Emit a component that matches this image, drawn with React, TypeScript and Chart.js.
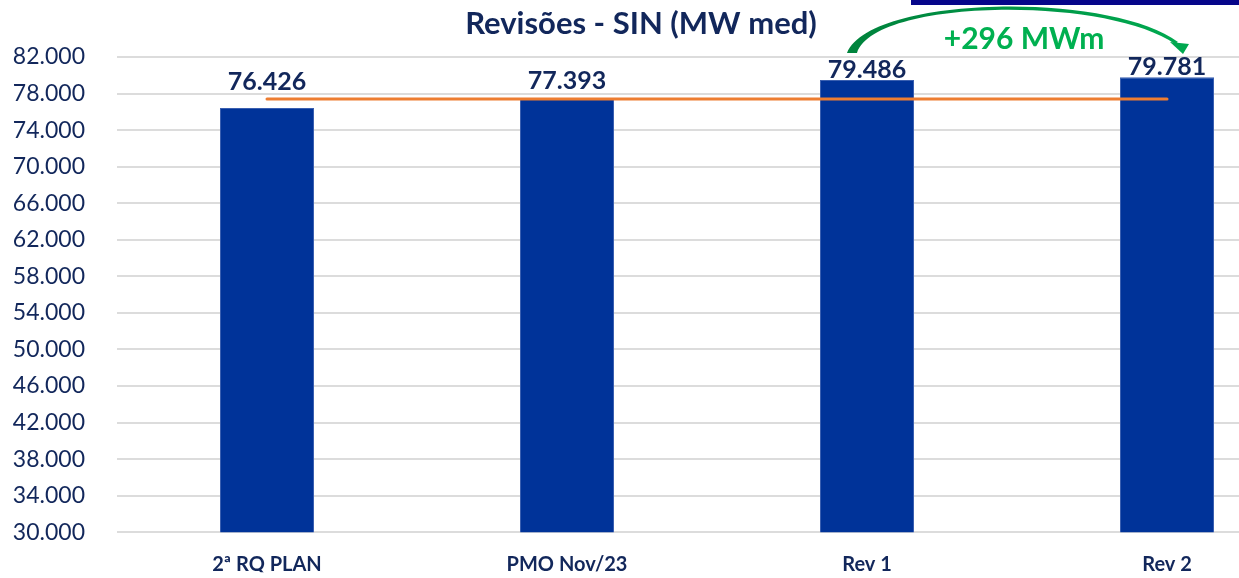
import React, { useEffect, useRef } from 'react';
import { Chart, registerables } from 'chart.js';

Chart.register(...registerables);

const categories = ['2ª RQ PLAN', 'PMO Nov/23', 'Rev 1', 'Rev 2'];
const values = [76426, 77393, 79486, 79781];
const referenceLine = [77393, 77393, 77393, 77393];
const yTicks = [30000, 34000, 38000, 42000, 46000, 50000, 54000, 58000, 62000, 66000, 70000, 74000, 78000, 82000];
const titleText = 'Revisões - SIN (MW med)';
const deltaText = '+296 MWm';

const NAVY = '#12275B';
const FONT = 'Lato, "Open Sans", sans-serif';
const LABEL_OFFSETS = [26, 18, 10, 10];

const fmt = (v: number) => String(Math.round(v)).replace(/\B(?=(\d{3})+(?!\d))/g, '.');

const decorPlugin = {
  id: 'decor',
  afterDatasetsDraw(chart: any) {
    const ctx = chart.ctx;
    const area = chart.chartArea;
    const bars = chart.getDatasetMeta(1).data;
    ctx.save();
    // data labels
    ctx.fillStyle = NAVY;
    ctx.font = `bold 25px ${FONT}`;
    ctx.textAlign = 'center';
    ctx.textBaseline = 'middle';
    bars.forEach((b: any, i: number) => {
      ctx.fillText(fmt(values[i]), b.x, b.y - LABEL_OFFSETS[i]);
    });
    // title
    ctx.font = `bold 31px ${FONT}`;
    ctx.fillText(titleText, 641, 24);
    // top-right bar
    ctx.fillStyle = '#06068A';
    ctx.fillRect(911, 0, 400, 5);
    // curved arrow between Rev 1 and Rev 2
    const x1 = bars[2].x;
    const x2 = bars[3].x;
    const t = area.top;
    const grad = ctx.createLinearGradient(x1, 0, x2, 0);
    grad.addColorStop(0, '#00843D');
    grad.addColorStop(1, '#00A84F');
    ctx.fillStyle = grad;
    ctx.beginPath();
    ctx.moveTo(x1 - 20, t - 4);
    ctx.bezierCurveTo(x1 + 3, t - 62, x2 - 57, t - 66, x2 + 11, t - 15);
    ctx.lineTo(x2 + 8, t - 13);
    ctx.bezierCurveTo(x2 - 60, t - 61, x1 + 8, t - 59, x1 - 10, t - 4);
    ctx.closePath();
    ctx.fill();
    ctx.beginPath();
    ctx.moveTo(x2 + 3, t - 15);
    ctx.lineTo(x2 + 22, t - 13);
    ctx.lineTo(x2 + 16, t - 3);
    ctx.closePath();
    ctx.fill();
    ctx.fillStyle = '#00B050';
    ctx.font = `bold 30px ${FONT}`;
    ctx.fillText(deltaText, (x1 + x2) / 2 + 7, t - 18);
    ctx.restore();
  },
};

export default function App() {
  const ref = useRef<HTMLCanvasElement>(null);
  useEffect(() => {
    if (!ref.current) return;
    const chart = new Chart(ref.current, {
      type: 'bar',
      data: {
        labels: categories,
        datasets: [
          {
            type: 'line',
            data: referenceLine,
            borderColor: '#ED7D31',
            borderWidth: 3,
            pointRadius: 0,
            borderCapStyle: 'round',
            order: 0,
          } as any,
          {
            type: 'bar',
            data: values,
            backgroundColor: '#003399',
            borderColor: '#3A5FB0',
            borderWidth: 1,
            barPercentage: 94 / 300,
            categoryPercentage: 1,
            order: 1,
          },
        ],
      },
      options: {
        animation: false,
        responsive: false,
        devicePixelRatio: 1,
        layout: { padding: { top: 57, left: 0, right: 0, bottom: 0 } },
        plugins: { legend: { display: false }, tooltip: { enabled: false }, title: { display: false } },
        scales: {
          x: {
            grid: { display: false, drawTicks: false },
            border: { display: false },
            ticks: { color: NAVY, font: { family: FONT, size: 20, weight: 'bold' }, padding: 20, maxRotation: 0 },
            afterFit: (s: any) => { s.height = 40; },
          },
          y: {
            min: 30000,
            max: 82000,
            grid: { color: '#DCDCDC', lineWidth: 2, drawTicks: false },
            border: { display: false },
            afterBuildTicks: (s: any) => { s.ticks = yTicks.map((v) => ({ value: v })); },
            ticks: {
              color: NAVY,
              font: { family: FONT, size: 23 },
              padding: 32,
              callback: (v: any) => fmt(Number(v)),
            },
            afterFit: (s: any) => { s.width = 117; },
          },
        },
      },
      plugins: [decorPlugin],
    });
    return () => chart.destroy();
  }, []);
  return (
    <div style={{ position: 'fixed', left: 0, top: 0, width: 1239, height: 578, overflow: 'hidden', background: '#fff' }}>
      <canvas ref={ref} width={1317} height={578} style={{ display: 'block', width: 1317, height: 578 }} />
    </div>
  );
}
